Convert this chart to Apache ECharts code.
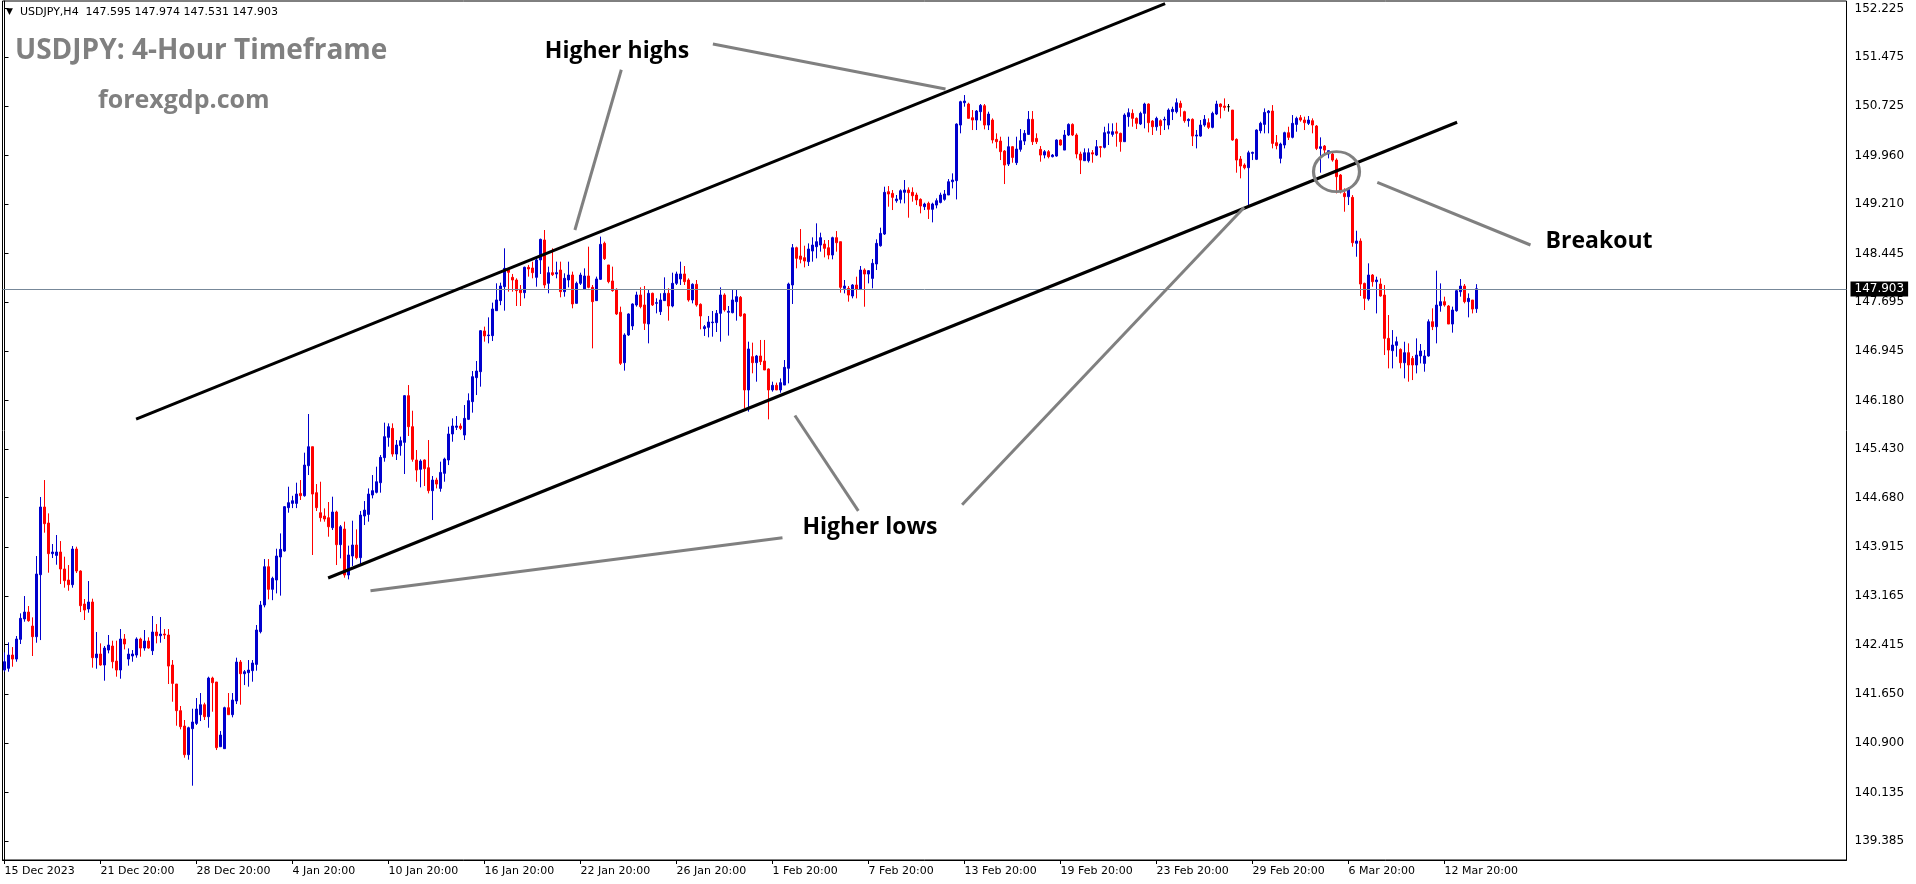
<!DOCTYPE html>
<html><head><meta charset="utf-8">
<script src="https://cdn.jsdelivr.net/npm/echarts@6/dist/echarts.min.js"></script>
<style>html,body{margin:0;padding:0;background:#fff}#c{width:1916px;height:884px}</style>
</head><body><div id="c"></div>
<script>
// ---------- values ----------
const headerText = 'USDJPY,H4  147.595 147.974 147.531 147.903';
const titleText = 'USDJPY: 4-Hour Timeframe';
const siteText = 'forexgdp.com';
const dateTicks = ['15 Dec 2023','21 Dec 20:00','28 Dec 20:00','4 Jan 20:00','10 Jan 20:00','16 Jan 20:00','22 Jan 20:00','26 Jan 20:00','1 Feb 20:00','7 Feb 20:00','13 Feb 20:00','19 Feb 20:00','23 Feb 20:00','29 Feb 20:00','6 Mar 20:00','12 Mar 20:00'];
const dateTickStep = 24;
const priceTicks = [152.225,151.475,150.725,149.960,149.210,148.445,147.695,146.945,146.180,145.430,144.680,143.915,143.165,142.415,141.650,140.900,140.135,139.385];
const lastPrice = 147.903;

// candles: [open, close, low, high]
const barsDec = [
[142.023,142.151,141.997,142.295],[142.049,142.254,141.997,142.449],[142.254,142.192,142.074,142.377],[142.192,142.501,142.151,142.547],
[142.496,142.820,142.424,142.897],[142.810,142.917,142.768,143.164],[142.917,142.784,142.768,143.010],[142.701,142.537,142.239,142.835],
[142.537,143.503,142.444,143.781],[143.493,144.537,142.485,144.691],[144.537,144.280,144.141,144.953],[144.290,143.817,143.524,144.439],
[143.817,143.843,143.750,143.966],[143.791,143.843,143.647,144.105],[143.843,143.581,143.349,144.012],[143.581,143.401,143.293,143.771],
[143.411,143.339,143.246,143.642],[143.339,143.889,143.293,143.935],[143.889,143.550,143.519,143.925],[143.550,143.015,142.917,143.560],
[143.041,142.948,142.794,143.118],[142.964,143.072,142.907,143.395],[143.072,142.213,142.059,143.123],[142.213,142.270,142.043,142.609],
[142.270,142.100,142.090,142.434],[142.100,142.362,141.858,142.393],[142.331,142.408,142.280,142.563],[142.393,142.151,142.049,142.475],
[142.161,142.023,141.920,142.475],[142.023,142.501,141.889,142.655],[142.501,142.424,142.341,142.578],[142.192,142.270,142.090,142.357],
[142.239,142.270,142.151,142.331],[142.254,142.501,142.213,142.527],[142.501,142.362,142.228,142.522],[142.362,142.470,142.321,142.640],
[142.470,142.362,142.352,142.527],[142.321,142.609,142.254,142.856],[142.609,142.552,142.434,142.732],[142.552,142.578,142.444,142.840],
[142.578,142.563,142.501,142.655],[142.563,142.084,141.807,142.655],[142.100,141.817,141.534,142.177],[141.807,141.396,141.164,141.807],
[141.396,141.149,141.108,141.468],[141.159,140.717,140.671,141.252],[140.717,141.133,140.640,141.149],[141.118,141.221,140.239,141.426],
[141.200,141.421,141.175,141.591],[141.334,141.488,141.236,141.668],[141.488,141.303,141.252,141.519],[141.303,141.899,141.133,141.920],
[141.899,141.827,141.380,141.920],[141.838,140.825,140.789,141.838],[140.840,141.020,140.840,141.082],[140.810,141.442,140.810,141.457],
[141.442,141.334,141.334,141.668],[141.334,141.560,141.293,141.668],[141.545,142.146,141.498,142.213],[142.146,141.966,141.488,142.177],
[141.966,141.997,141.791,142.023],[141.982,142.023,141.766,142.177],[142.013,142.131,141.843,142.177],[142.110,142.640,142.013,142.717],
[142.614,143.025,142.588,143.087]
];
const barsJanA = [
[143.025,143.616,142.990,143.734],[143.616,143.267,143.113,143.734],[143.267,143.437,143.100,143.462],[143.411,143.781,143.205,143.894],
[143.766,143.884,143.170,144.130],[143.858,144.542,143.848,144.552],[144.527,144.604,144.449,144.850],[144.593,144.634,144.520,144.710],
[144.593,144.737,144.520,144.912],[144.747,144.711,144.645,144.953],[144.711,145.184,144.696,145.375],[145.174,145.467,145.030,145.971],
[145.467,144.737,143.797,145.467],[144.758,144.527,144.475,144.891],[144.449,144.372,144.311,144.927],[144.398,144.352,144.311,144.516],
[144.372,144.233,144.079,144.614],[144.218,144.460,144.182,144.696],[144.460,143.956,143.642,144.480],[143.956,144.233,143.745,144.259],
[144.197,143.488,143.447,144.311],[143.488,143.797,143.421,143.941],[143.781,143.951,143.627,144.326],[143.951,143.756,143.730,144.192],
[143.756,144.413,143.642,144.475],[144.398,144.490,144.259,144.629],[144.423,144.737,144.311,144.824],[144.722,144.789,144.670,145.030],
[144.763,144.927,144.747,145.159],[144.912,145.303,144.758,145.339],[145.298,145.622,145.236,145.838],[145.611,145.776,145.467,145.827],
[145.750,145.354,145.313,145.827],[145.354,145.493,145.262,145.570],[145.483,145.560,145.329,145.622],[145.534,146.254,145.046,146.264],
[146.254,145.776,145.632,146.418],[145.776,145.272,145.236,146.022],[145.262,145.107,144.927,145.416],[145.118,145.246,144.840,145.272],
[145.262,145.128,144.861,145.272],[145.143,144.789,144.747,145.570],[144.789,144.953,144.336,145.015],[144.953,144.891,144.824,144.989],
[144.824,145.071,144.773,145.236],[145.056,145.277,144.927,145.298],[145.262,145.663,145.184,145.776],[145.663,145.786,145.544,145.904],
[145.766,145.786,145.724,145.940],[145.786,145.750,145.724,145.827],[145.647,145.904,145.570,146.110],[145.889,146.177,145.878,146.290],
[146.162,146.547,145.992,146.634],[146.532,146.634,146.264,146.789],[146.624,147.256,146.393,147.267],[147.252,147.175,147.087,147.319],
[147.180,147.190,147.061,147.462],[147.180,147.591,147.097,147.689],[147.565,147.730,147.565,147.987],[147.720,147.946,147.650,147.997]
];
const barsJanB = [
[147.935,148.218,147.565,148.527],[148.192,148.156,147.858,148.218],[148.079,148.038,147.858,148.131],[148.038,147.874,147.637,148.064],
[147.894,147.843,147.637,147.961],[147.843,148.234,147.755,148.244],[148.234,148.208,148.090,148.270],[148.223,148.151,148.064,148.321],
[148.079,148.347,147.935,148.398],[148.347,148.665,148.131,148.676],[148.655,147.961,147.910,148.809],[147.987,148.151,147.833,148.244],
[148.151,148.120,148.100,148.527],[148.131,148.151,148.064,148.321],[148.192,147.858,147.771,148.321],[147.858,148.064,147.781,148.141],
[148.038,148.115,147.925,148.321],[148.115,147.668,147.601,148.167],[147.678,147.987,147.678,148.013],[147.987,148.115,147.961,148.151],
[147.900,148.100,147.884,148.218],[148.100,147.925,147.910,148.552],[147.925,147.704,146.984,147.961],[147.720,148.054,147.720,148.090],
[148.048,148.588,148.038,148.707],[148.604,148.367,148.347,148.630],[148.270,148.013,147.987,148.270],[148.023,147.874,147.858,148.244],
[147.894,147.514,147.498,147.910],[147.540,146.753,146.727,147.627],[146.763,147.190,146.640,147.216],[147.190,147.514,147.175,147.524],
[147.329,147.668,147.267,147.678],[147.653,147.807,147.627,147.858],[147.807,147.627,147.601,147.925],[147.653,147.370,147.267,147.946],
[147.360,147.833,147.061,147.884],[147.833,147.653,147.637,147.843],[147.678,147.689,147.524,147.756],[147.550,147.730,147.498,147.833],
[147.720,147.833,147.720,148.079],[147.833,147.637,147.411,147.910],[147.637,147.987,147.617,148.151],[147.987,148.131,147.961,148.167],
[148.054,148.131,147.961,148.321],[148.131,148.013,147.961,148.254],[148.038,147.730,147.704,148.064],[147.730,147.972,147.678,147.987],
[147.972,147.653,147.627,148.038],[147.663,147.483,147.277,147.678],[147.288,147.318,147.175,147.344],[147.308,147.390,147.154,147.483],
[147.380,147.390,147.164,147.560],[147.380,147.524,147.236,147.575],[147.524,147.807,147.087,147.925],[147.807,147.576,147.550,147.833],
[147.540,147.555,147.180,147.637],[147.534,147.730,147.524,147.884],[147.704,147.781,147.411,147.894],[147.771,147.483,147.473,147.791],
[147.514,146.342,146.059,147.524],[146.342,146.974,146.008,147.087],[146.856,146.763,146.599,147.072],[146.763,146.866,146.470,146.882],
[146.866,146.779,146.727,147.113],[146.789,146.650,146.650,147.113],[146.666,146.342,145.889,146.676],[146.342,146.414,146.316,146.470],
[146.414,146.342,146.342,146.455],[146.342,146.455,146.300,146.520]
];
const barsFebA = [
[146.418,146.691,146.418,146.804],[146.676,147.976,146.444,147.997],[147.961,148.536,147.668,148.593],[148.536,148.372,148.218,148.552],
[148.408,148.357,148.295,148.824],[148.382,148.331,148.233,148.567],[148.321,148.516,148.254,148.603],[148.485,148.577,148.321,148.696],
[148.552,148.629,148.372,148.912],[148.577,148.691,148.475,148.768],[148.593,148.526,148.387,148.655],[148.536,148.423,148.357,148.655],
[148.423,148.691,148.357,148.706],[148.691,148.613,148.475,148.793],[148.629,147.925,147.842,148.629],[147.909,147.945,147.832,148.038],
[147.909,147.806,147.704,147.945],[147.791,147.961,147.755,147.976],[147.961,147.894,147.755,148.089],[147.894,148.192,147.883,148.254],
[148.192,148.130,147.626,148.218],[148.130,148.182,147.986,148.192],[148.063,148.295,147.909,148.362],[148.285,148.603,148.192,148.665],
[148.567,148.757,148.552,148.845],[148.747,149.390,148.732,149.477],[149.400,149.364,149.169,149.487],[149.374,149.313,149.117,149.426],
[149.261,149.287,149.230,149.349],[149.282,149.415,149.220,149.436],[149.390,149.426,149.220,149.580],[149.426,149.385,148.999,149.467],
[149.390,149.338,149.246,149.467],[149.349,149.272,149.194,149.385],[149.282,149.179,149.066,149.297],[149.169,149.210,149.117,149.230],
[149.220,149.128,148.979,149.246],[149.128,149.210,148.927,149.230],[149.194,149.261,149.143,149.297],[149.235,149.349,149.220,149.385],
[149.282,149.364,149.261,149.426],[149.349,149.554,149.349,149.595],[149.554,149.580,149.451,149.683]
];
const barsFebB = [
[149.570,150.443,149.281,150.454],[150.428,150.788,150.300,150.803],[150.772,150.798,150.711,150.891],[150.752,150.531,150.531,150.772],
[150.541,150.505,150.351,150.659],[150.505,150.644,150.351,150.659],[150.634,150.731,150.495,150.752],[150.726,150.428,150.361,150.752],
[150.428,150.598,150.351,150.634],[150.505,150.197,150.145,150.531],[150.207,150.171,150.068,150.300],[150.181,150.017,149.888,150.248],
[150.027,149.811,149.518,150.042],[149.826,150.094,149.796,150.248],[150.094,149.929,149.847,150.104],[149.847,150.058,149.811,150.248],
[150.053,150.186,150.017,150.366],[150.181,150.300,150.120,150.351],[150.284,150.516,150.274,150.644],[150.516,150.171,150.120,150.644],
[150.222,150.171,150.135,150.300],[150.053,149.965,149.863,150.104],[149.965,150.017,149.914,150.042],[150.017,149.940,149.914,150.042],
[149.940,149.965,149.929,149.981],[149.950,150.197,149.940,150.207],[150.197,150.120,150.110,150.207],[150.042,150.274,150.042,150.351],
[150.274,150.438,150.258,150.454],[150.438,150.274,150.258,150.454],[150.274,149.981,149.914,150.300],[149.981,149.888,149.672,150.017],
[149.878,150.001,149.878,150.068],[149.878,150.001,149.850,150.068],[150.001,149.981,149.847,150.042],[149.965,150.094,149.950,150.197],
[150.094,150.084,149.929,150.104],[150.084,150.310,150.068,150.402],[150.300,150.325,150.120,150.454],[150.284,150.325,150.248,150.454],
[150.325,150.300,150.094,150.464],[150.300,150.171,150.017,150.310],[150.171,150.582,150.171,150.608],[150.557,150.618,150.402,150.685],
[150.608,150.531,150.402,150.670],[150.531,150.454,150.366,150.546],[150.444,150.608,150.428,150.634],[150.608,150.752,150.377,150.772],
[150.752,150.464,150.315,150.762],[150.490,150.402,150.274,150.505],[150.402,150.531,150.341,150.557],[150.495,150.418,150.274,150.516],
[150.505,150.516,150.351,150.557],[150.428,150.659,150.361,150.685],[150.634,150.670,150.505,150.711],[150.634,150.772,150.608,150.839],
[150.762,150.700,150.557,150.803],[150.634,150.495,150.464,150.649],[150.495,150.516,150.402,150.531],[150.516,150.258,150.104,150.531],
[150.258,150.274,150.068,150.351],[150.258,150.428,150.248,150.505],[150.428,150.516,150.402,150.582],[150.464,150.392,150.366,150.531],
[150.392,150.608,150.377,150.634],[150.598,150.752,150.582,150.803],[150.752,150.711,150.531,150.762],[150.721,150.700,150.649,150.839],
[150.711,150.711,150.634,150.752]
];
const barsMar = [
[150.659,150.197,150.186,150.659],[150.207,149.888,149.693,150.222],[149.904,149.796,149.606,149.950],[149.811,149.770,149.744,149.837],
[149.770,150.001,149.169,150.032],[149.991,150.007,149.888,150.017],[149.899,150.351,149.888,150.361],[150.341,150.454,150.300,150.479],
[150.438,150.623,150.300,150.685],[150.618,150.644,150.300,150.659],[150.644,150.145,150.068,150.736],[150.156,150.110,150.053,150.274],
[149.914,150.135,149.837,150.156],[150.120,150.310,150.068,150.325],[150.310,150.238,150.197,150.402],[150.238,150.454,150.222,150.582],
[150.438,150.531,150.325,150.557],[150.541,150.505,150.479,150.582],[150.505,150.464,150.351,150.557],[150.454,150.505,150.428,150.567],
[150.495,150.428,150.300,150.531],[150.413,150.068,150.042,150.428],[150.068,150.094,149.693,150.238],[150.104,150.042,149.981,150.120],
[149.981,150.032,149.914,150.032],[149.981,149.888,149.863,150.001],[149.888,149.631,149.374,149.914],[149.657,149.400,149.374,149.672],
[149.374,149.323,149.091,149.451],[149.323,149.451,149.194,149.467],[149.313,148.613,148.551,149.348],[148.604,148.639,148.397,148.798],
[148.639,147.976,147.791,148.680],[147.986,147.755,147.575,147.997],[147.745,148.115,147.719,148.295],[148.115,148.012,147.935,148.130],
[148.012,148.038,147.523,148.089],[147.976,147.791,147.781,148.063],[147.806,147.138,146.881,147.960],[147.138,146.958,146.675,147.498],
[146.948,147.035,146.675,147.266],[147.030,147.086,146.855,147.164],[146.968,146.762,146.675,146.984],[146.762,146.917,146.521,147.086],
[146.917,146.727,146.470,147.061],[146.829,146.727,146.495,146.866],[146.727,146.881,146.598,147.138],[146.866,146.943,146.752,147.051],
[146.752,146.866,146.624,146.958],[146.866,147.395,146.855,147.431],[147.395,147.318,147.266,147.601],[147.318,147.652,147.061,148.182],
[147.642,147.704,147.549,147.986],[147.704,147.652,147.627,147.781],[147.637,147.359,147.359,147.652],[147.359,147.575,147.226,147.627],
[147.565,147.873,147.549,147.894],[147.858,147.945,147.781,148.053],[147.945,147.704,147.678,147.976],[147.704,147.755,147.462,147.832],
[147.729,147.590,147.523,147.729],[147.595,147.903,147.531,147.974]
];

// drawn annotations, in [bar index, price]
const channelLines = [
  [[32.9,145.894],[290.15,152.299]],
  [[80.9,143.442],[363.15,150.471]]
];
const pointerLines = [
  [[177.1,151.678],[235.25,150.983]],
  [[154.2,151.281],[142.6,148.809]],
  [[91.5,143.246],[194.5,144.063]],
  [[197.6,145.948],[213.45,144.478]],
  [[239.4,144.572],[309.9,149.156]],
  [[343.2,149.545],[381.5,148.578]]
];
const breakoutCircle = [[333,149.708]];

// ---------- chart ----------
const SLOT_COUNT = 461;
const bars = [...barsDec, ...barsJanA, ...barsJanB, ...barsFebA, ...barsFebB, ...barsMar];
const candleData = bars.map(b => b[0] === b[1]
  ? {value: b, itemStyle: {color:'#000', color0:'#000', borderColor:'#000', borderColor0:'#000'}}
  : b);
const slots = Array.from({length: SLOT_COUNT}, (_, i) => String(i));
const isDateTick = (i) => i % dateTickStep === 0 && (i / dateTickStep) < dateTicks.length;

const chart = echarts.init(document.getElementById('c'), null, {renderer: 'canvas'});
const annFont = '"Open Sans", sans-serif';
chart.setOption({
  animation: false,
  backgroundColor: '#fff',
  grid: {left: 2.5, right: 69.5, top: 1, bottom: 24, show: true, borderColor: '#000', borderWidth: 1, backgroundColor: '#fff'},
  xAxis: [
    {type: 'category', data: slots, boundaryGap: true,
     axisLine: {show: true, lineStyle: {color: '#000', width: 1}},
     axisTick: {show: true, alignWithLabel: true, interval: (i) => isDateTick(i), length: 4, lineStyle: {color: '#000'}},
     axisLabel: {interval: (i) => isDateTick(i), formatter: (v, i) => dateTicks[i / dateTickStep] || '',
                 align: 'left', margin: 6, color: '#000', fontFamily: 'DejaVu Sans', fontSize: 11,
                 showMinLabel: true, showMaxLabel: true, hideOverlap: false},
     splitLine: {show: false}},
    {type: 'value', min: -0.5, max: SLOT_COUNT - 0.5, show: false}
  ],
  yAxis: [{type: 'value', position: 'right', min: 139.093, max: 152.341,
    axisLine: {show: true, lineStyle: {color: '#000'}},
    axisTick: {show: true, customValues: priceTicks, length: 4, lineStyle: {color: '#000'}},
    axisLabel: {customValues: priceTicks, formatter: (v) => v.toFixed(3), color: '#000',
                fontFamily: 'DejaVu Sans', fontSize: 12, margin: 8},
    splitLine: {show: false}}],
  graphic: [
    {type: 'text', x: 6, y: 7, style: {text: '▼', fill: '#000', font: '9px "DejaVu Sans"'}},
    {type: 'text', x: 20, y: 7, style: {text: headerText, fill: '#000', font: '11px "DejaVu Sans"'}},
    {type: 'text', x: 15, y: 51, style: {text: titleText, fill: '#808080', font: 'bold 28px ' + annFont, verticalAlign: 'middle'}},
    {type: 'text', x: 98, y: 101, style: {text: siteText, fill: '#808080', font: 'bold 25px ' + annFont, verticalAlign: 'middle'}},
    {type: 'text', x: 617, y: 51, style: {text: 'Higher highs', fill: '#000', font: 'bold 23px ' + annFont, align: 'center', verticalAlign: 'middle'}},
    {type: 'text', x: 870, y: 527, style: {text: 'Higher lows', fill: '#000', font: 'bold 23px ' + annFont, align: 'center', verticalAlign: 'middle'}},
    {type: 'text', x: 1599, y: 241, style: {text: 'Breakout', fill: '#000', font: 'bold 23px ' + annFont, align: 'center', verticalAlign: 'middle'}}
  ],
  series: [
    {type: 'candlestick', xAxisIndex: 0, yAxisIndex: 0, data: candleData, barWidth: 2, z: 2,
     itemStyle: {color: '#0000CD', color0: '#FF0000', borderColor: '#0000CD', borderColor0: '#FF0000', borderWidth: 1},
     emphasis: {disabled: true},
     markLine: {silent: true, symbol: ['none', 'none'], data: [{yAxis: lastPrice}],
       lineStyle: {color: '#778899', width: 1, type: 'solid'},
       emphasis: {disabled: true},
       label: {show: true, position: 'end', distance: 4, formatter: () => lastPrice.toFixed(3),
               backgroundColor: '#000', color: '#fff', padding: [2, 4, 1, 4],
               fontFamily: 'DejaVu Sans', fontSize: 12}}},
    {type: 'lines', coordinateSystem: 'cartesian2d', xAxisIndex: 1, yAxisIndex: 0, z: 5, silent: true,
     data: channelLines.map(c => ({coords: c})), lineStyle: {color: '#000', width: 3, opacity: 1}},
    {type: 'lines', coordinateSystem: 'cartesian2d', xAxisIndex: 1, yAxisIndex: 0, z: 5, silent: true,
     data: pointerLines.map(c => ({coords: c})), lineStyle: {color: '#808080', width: 3, opacity: 1}},
    {type: 'scatter', xAxisIndex: 1, yAxisIndex: 0, z: 6, silent: true, data: breakoutCircle,
     symbol: 'circle', symbolSize: [46, 40],
     itemStyle: {color: 'rgba(0,0,0,0)', borderColor: '#808080', borderWidth: 3, opacity: 1}}
  ]
});
</script>
</body></html>
